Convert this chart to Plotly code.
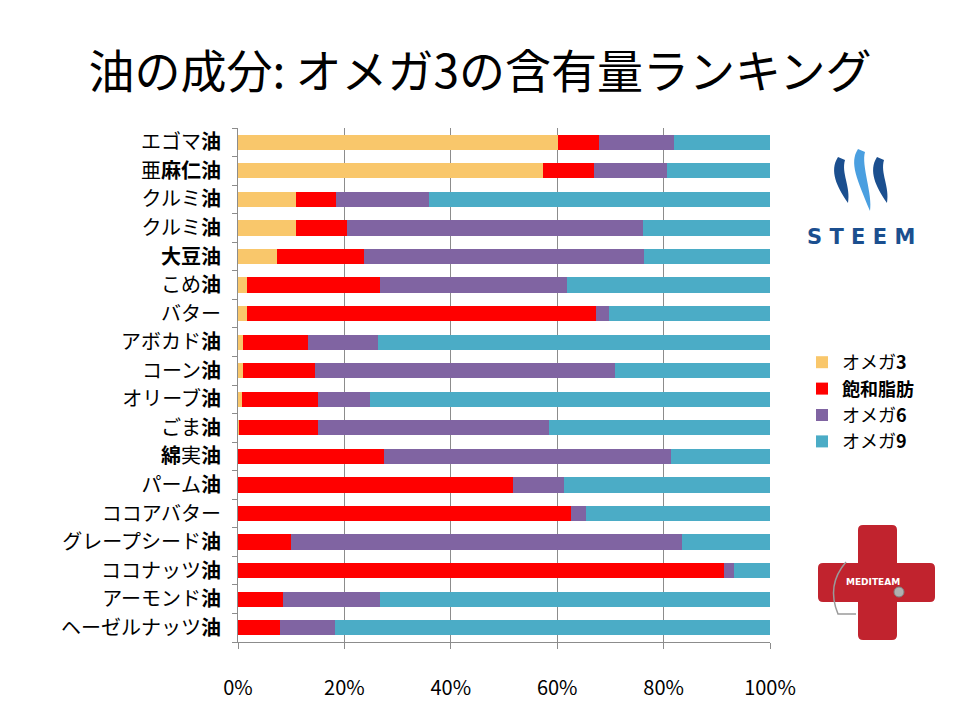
import plotly.graph_objects as go

title = "油の成分: オメガ3の含有量ランキング"
labels = ["エゴマ<b>油</b>", "亜<b>麻仁油</b>", "クルミ<b>油</b>", "クルミ<b>油</b>", "<b>大豆油</b>",
          "こめ<b>油</b>", "バター", "アボカド<b>油</b>", "コーン<b>油</b>", "オリーブ<b>油</b>",
          "ごま<b>油</b>", "<b>綿</b>実<b>油</b>", "パーム<b>油</b>", "ココアバター",
          "グレープシード<b>油</b>", "ココナッツ<b>油</b>", "アーモンド<b>油</b>", "ヘーゼルナッツ<b>油</b>"]
omega3 = [60.1, 57.4, 10.9, 10.9, 7.3, 1.6, 1.6, 1.0, 1.0, 0.8, 0.2, 0, 0, 0, 0, 0, 0, 0]
saturated = [7.8, 9.6, 7.6, 9.5, 16.3, 25.0, 65.6, 12.1, 13.5, 14.3, 14.9, 27.4, 51.6, 62.5, 10.0, 91.3, 8.5, 7.8]
omega6 = [14.0, 13.7, 17.4, 55.7, 52.7, 35.3, 2.5, 13.2, 56.3, 9.8, 43.4, 53.9, 9.6, 3.0, 73.4, 1.9, 18.2, 10.5]
omega9 = [18.1, 19.3, 64.1, 23.9, 23.7, 38.1, 30.3, 73.7, 29.2, 75.1, 41.5, 18.7, 38.8, 34.5, 16.6, 6.8, 73.3, 81.7]
series_names = ["オメガ<b>3</b>", "<b>飽和脂肪</b>", "オメガ<b>6</b>", "オメガ<b>9</b>"]
series_colors = ["#F9C76B", "#FF0000", "#8064A2", "#4BACC6"]
xticks = [0, 20, 40, 60, 80, 100]

FONT = "Noto Sans CJK JP"
O = 8  # page body margin offset
W, H = 960 - O, 720 - O
# plot area in screen (reference) pixels
L, R, T, B = 238, 770, 128, 642

def X(px):
    return (px - L) / (R - L)

def Y(py):
    return (B - py) / (B - T)

ypos = list(range(len(labels)))
fig = go.Figure()
for name, vals, col in zip(series_names, [omega3, saturated, omega6, omega9], series_colors):
    fig.add_trace(go.Bar(y=ypos, x=vals, orientation="h", name=name,
                         marker=dict(color=col, line=dict(width=0))))

fig.update_layout(
    width=W, height=H, barmode="stack", bargap=0.47,
    margin=dict(l=L - O, r=W - (R - O), t=T - O, b=H - (B - O), pad=0),
    paper_bgcolor="white", plot_bgcolor="white",
    font=dict(family=FONT, color="black"),
    title=dict(text=title, x=(480 - O) / W, xref="container", xanchor="center", y=1 - (72 - O) / H,
               yref="container", yanchor="middle",
               font=dict(size=46, family=FONT, color="black")),
    legend=dict(x=X(802), y=Y(344), xanchor="left", yanchor="top", traceorder="normal",
                font=dict(size=18, family=FONT), bgcolor="rgba(0,0,0,0)", itemwidth=30),
)
fig.update_xaxes(range=[0, 100], tickvals=xticks, ticktext=[f"{v}%" for v in xticks],
                 showgrid=True, gridcolor="#8C8C8C", gridwidth=1, zeroline=False,
                 showline=True, linecolor="#8C8C8C", linewidth=1,
                 ticks="outside", ticklen=6, tickcolor="#8C8C8C",
                 tickfont=dict(size=20, family=FONT, color="black"), ticklabelstandoff=22)
fig.update_yaxes(range=[len(labels) - 0.5, -0.5], tickvals=ypos, ticktext=labels,
                 showgrid=False, zeroline=False, showline=True, linecolor="#8C8C8C", linewidth=1,
                 ticks="", tickfont=dict(size=20, family=FONT, color="black"), ticklabelstandoff=12,
                 minor=dict(tickvals=[i - 0.5 for i in range(len(labels) + 1)], ticks="outside",
                            ticklen=5, tickcolor="#8C8C8C", showgrid=False))

def path(cmds):
    out = []
    for c, pts in cmds:
        out.append(c + " ".join(f"{X(x):.5f},{Y(y):.5f}" for x, y in pts))
    return " ".join(out) + " Z"

def ribbon(dx, t, b, w):
    tx, ty = t
    bx, by = b
    return path([("M", [(tx + dx, ty)]),
                 ("C", [(tx + dx - 9, ty + 14), (tx + dx - 1, ty + 30), (bx + dx, by)]),
                 ("C", [(bx + dx + 3, by - 16), (tx + dx + w - 4, ty + 16), (tx + dx + w, ty + 3)])])

dark_blue = "#1B4F8F"
light_blue = "#4A9FE0"
for dx, col, t, b in [(0, dark_blue, (838, 157), (848, 203)),
                      (0, light_blue, (858, 149), (870, 211)),
                      (39, dark_blue, (838, 157), (848, 203))]:
    fig.add_shape(type="path", xref="paper", yref="paper", path=ribbon(dx, t, b, 7),
                  fillcolor=col, line=dict(width=0), layer="above")
fig.add_annotation(x=X(861), y=Y(237), xref="paper", yref="paper", text="<b>S T E E M</b>",
                   showarrow=False, font=dict(size=21, family="DejaVu Sans", color=dark_blue),
                   xanchor="center", yanchor="middle")

def rrect(x0, y0, x1, y1, r):
    return path([("M", [(x0 + r, y0)]), ("L", [(x1 - r, y0)]), ("Q", [(x1, y0), (x1, y0 + r)]),
                 ("L", [(x1, y1 - r)]), ("Q", [(x1, y1), (x1 - r, y1)]), ("L", [(x0 + r, y1)]),
                 ("Q", [(x0, y1), (x0, y1 - r)]), ("L", [(x0, y0 + r)]), ("Q", [(x0, y0), (x0 + r, y0)])])

red = "#C1232E"
fig.add_shape(type="path", xref="paper", yref="paper", path=rrect(858, 525, 897, 640, 5),
              fillcolor=red, line=dict(width=0))
fig.add_shape(type="path", xref="paper", yref="paper", path=rrect(818, 563, 935, 602, 5),
              fillcolor=red, line=dict(width=0))
fig.add_shape(type="path", xref="paper", yref="paper",
              path="M " + f"{X(846):.5f},{Y(562):.5f}" + " Q " + f"{X(826):.5f},{Y(585):.5f} {X(838):.5f},{Y(614):.5f}" +
                   " L " + f"{X(856):.5f},{Y(614):.5f}",
              line=dict(color="#9A9A9A", width=1.5))
fig.add_shape(type="circle", xref="paper", yref="paper", x0=X(894), x1=X(904), y0=Y(597), y1=Y(587),
              fillcolor="#B0B0B0", line=dict(color="#808080", width=1))
fig.add_annotation(x=X(873), y=Y(582), xref="paper", yref="paper", text="<b>MEDITEAM</b>",
                   showarrow=False, font=dict(size=9, family="DejaVu Sans", color="white"),
                   xanchor="center", yanchor="middle")

fig.write_html("out.html")
